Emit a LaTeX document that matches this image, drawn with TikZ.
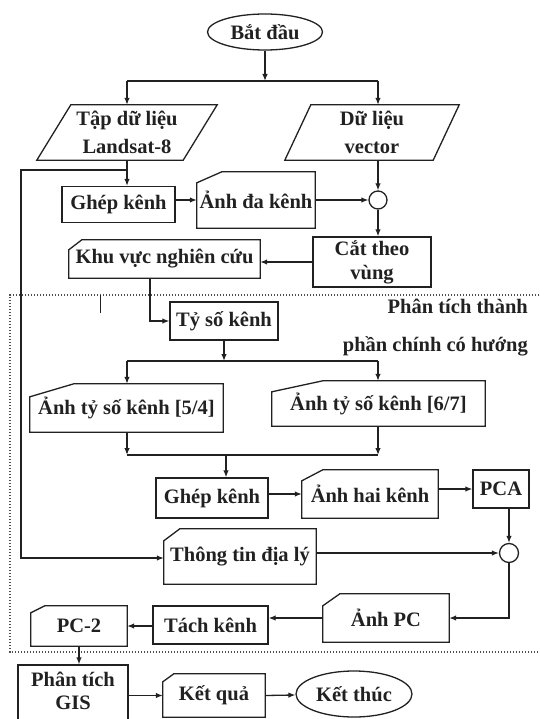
\documentclass[tikz,border=0pt]{standalone}
\usepackage{fontspec}
\setmainfont{Liberation Serif}
\usetikzlibrary{arrows.meta,calc,shapes.geometric}
\definecolor{ink}{gray}{0.13}
\newcommand\myfont{\bfseries\fontsize{20.5}{24}\selectfont}
\newcommand\mycard[3]{\draw[boxline] ($(#1.north west)+(#2,0)$) -- (#1.north east) -- (#1.south east) -- (#1.south west) -- ($(#1.north west)+(0,#3)$) -- cycle;}
\newcommand\mypara[2]{\draw[boxline] ($(#1.north west)+(#2,0)$) -- (#1.north east) -- ($(#1.south east)-(#2,0)$) -- (#1.south west) -- cycle;}
\tikzset{
  tx/.style={font=\myfont, inner sep=0pt, align=center, text=ink},
  boxline/.style={draw=ink, line width=1.3pt},
  rectbox/.style={tx, boxline},
  ovalbox/.style={tx, boxline, ellipse},
  joint/.style={boxline, circle, inner sep=0pt, fill=white},
  conn/.style={draw=ink, line width=1.3pt},
  arr/.style={conn, -{Latex[length=7pt,width=5.5pt]}},
  framedots/.style={draw=ink!80, line width=1.3pt, dash pattern=on 1.3pt off 1.7pt},
}
\begin{document}
\begin{tikzpicture}[x=1pt,y=-1pt]
\useasboundingbox (0,0) rectangle (539,719);
\clip (0,0) rectangle (539,719);
\fill[white] (0,0) rectangle (539,719);

% dotted frame
\draw[framedots] (545,295) -- (10,295) -- (10,652) -- (545,652);
\draw[conn, line width=1pt] (100,295) -- (100,313);

% nodes
\node[ovalbox, minimum width=115pt, minimum height=36pt] (start) at (265,32) {Bắt đầu};
\node[tx, minimum width=180pt, minimum height=55pt] (land) at (127,132.5) {Tập dữ liệu\\[4pt]Landsat-8};
\mypara{land}{34}
\node[tx, minimum width=174pt, minimum height=55pt] (vec) at (372,132.5) {Dữ liệu\\[4pt]vector};
\mypara{vec}{26}
\node[rectbox, minimum width=113pt, minimum height=36pt] (g1) at (118.5,204.5) {Ghép kênh};
\node[tx, minimum width=118pt, minimum height=56pt] (ada) at (256,200) {Ảnh đa kênh};
\mycard{ada}{25}{11}
\node[joint, minimum size=18pt] (c1) at (378,200) {};
\node[rectbox, minimum width=118pt, minimum height=50pt] (cut) at (372,262) {Cắt theo\\vùng};
\node[tx, minimum width=191pt, minimum height=38pt] (khu) at (164.5,259) {Khu vực nghiên cứu};
\mycard{khu}{13}{10}
\node[rectbox, minimum width=108pt, minimum height=38pt] (ty) at (224,321) {Tỷ số kênh};
\node[tx, anchor=east, align=right] (pcaTitle) at (528,328) {Phân tích thành\\[14pt]phần chính có hướng};
\node[tx, minimum width=193pt, minimum height=48pt] (r54) at (126.5,408) {Ảnh tỷ số kênh [5/4]};
\mycard{r54}{44}{13}
\node[tx, minimum width=213pt, minimum height=45pt] (r67) at (378.5,403.5) {Ảnh tỷ số kênh [6/7]};
\mycard{r67}{51}{11}
\node[rectbox, minimum width=112pt, minimum height=40pt] (g2) at (212,498) {Ghép kênh};
\node[tx, minimum width=136pt, minimum height=48pt] (hai) at (370,494) {Ảnh hai kênh};
\mycard{hai}{21}{11}
\node[rectbox, minimum width=56pt, minimum height=38pt] (pca) at (501,489) {PCA};
\node[tx, minimum width=152pt, minimum height=55pt] (info) at (240,556.5) {Thông tin địa lý};
\mycard{info}{16}{12}
\node[joint, minimum size=19pt] (c2) at (509,553) {};
\node[tx, minimum width=126pt, minimum height=48pt] (apc) at (386,618) {Ảnh PC};
\mycard{apc}{17}{12}
\node[rectbox, minimum width=115pt, minimum height=38pt] (tach) at (210.5,625) {Tách kênh};
\node[tx, minimum width=96pt, minimum height=40pt] (pc2) at (79,626) {PC-2};
\mycard{pc2}{14}{7}
\node[rectbox, minimum width=110pt, minimum height=75pt] (gis) at (73,702.5) {};
\node[tx] (gistext) at (73,691) {Phân tích\\[-1pt]GIS};
\node[tx, minimum width=102pt, minimum height=43pt] (kq) at (214,695.5) {Kết quả};
\mycard{kq}{11}{8}
\node[ovalbox, minimum width=116pt, minimum height=46pt] (end) at (354,694) {Kết thúc};

% helper points
\coordinate (top) at (265,81);
\coordinate (topL) at (127,81);
\coordinate (topR) at (378,81);
\coordinate (br) at (127,170);
\coordinate (lt) at (21,170);
\coordinate (lb) at (21,558);
\coordinate (kd) at (150,321);
\coordinate (s2) at (224,361);
\coordinate (s2L) at (127,361);
\coordinate (s2R) at (378,361);
\coordinate (j2) at (226,455);
\coordinate (j2L) at (127,455);
\coordinate (j2R) at (378,455);

% connectors
\draw[arr] (start) -- (top);
\draw[conn] (topL) -- (topR);
\draw[arr] (topL) -- (topL |- land.north);
\draw[arr] (topR) -- (topR |- vec.north);
\draw[arr] (br |- land.south) -- (br |- g1.north);
\draw[arr] (br) -- (lt) -- (lb) -- (lb -| info.west);
\draw[arr] (g1.east |- c1) -- (ada.west |- c1);
\draw[arr] (ada.east |- c1) -- (c1.west);
\draw[arr] (c1 |- vec.south) -- (c1.north);
\draw[arr] (c1.south) -- (c1 |- cut.north);
\draw[arr] (cut.west) -- (cut.west -| khu.east);
\draw[arr] (kd |- khu.south) -- (kd) -- (ty.west);
\draw[arr] (s2 |- ty.south) -- (s2);
\draw[conn] (s2L) -- (s2R);
\draw[arr] (s2L) -- (s2L |- r54.north);
\draw[arr] (s2R) -- (s2R |- r67.north);
\draw[arr] (j2L |- r54.south) -- (j2L);
\draw[arr] (j2R |- r67.south) -- (j2R);
\draw[conn] (j2L) -- (j2R);
\draw[arr] (j2) -- (j2 |- g2.north);
\draw[arr] (g2.east |- hai.west) -- (hai.west);
\draw[arr] (hai.east |- pca.west) -- (pca.west);
\draw[arr] (c2 |- pca.south) -- (c2.north);
\draw[arr] (info.east |- c2) -- (c2.west);
\draw[arr] (c2.south) -- (c2 |- apc.east) -- (apc.east);
\draw[arr] (apc.west) -- (apc.west -| tach.east);
\draw[arr] (tach.west |- pc2.east) -- (pc2.east);
\draw[arr] (pc2.south) -- (pc2.south |- gis.north);
\draw[arr] (gis.east |- kq.west) -- (kq.west);
\draw[arr] (kq.east) -- (end);
\end{tikzpicture}
\end{document}
